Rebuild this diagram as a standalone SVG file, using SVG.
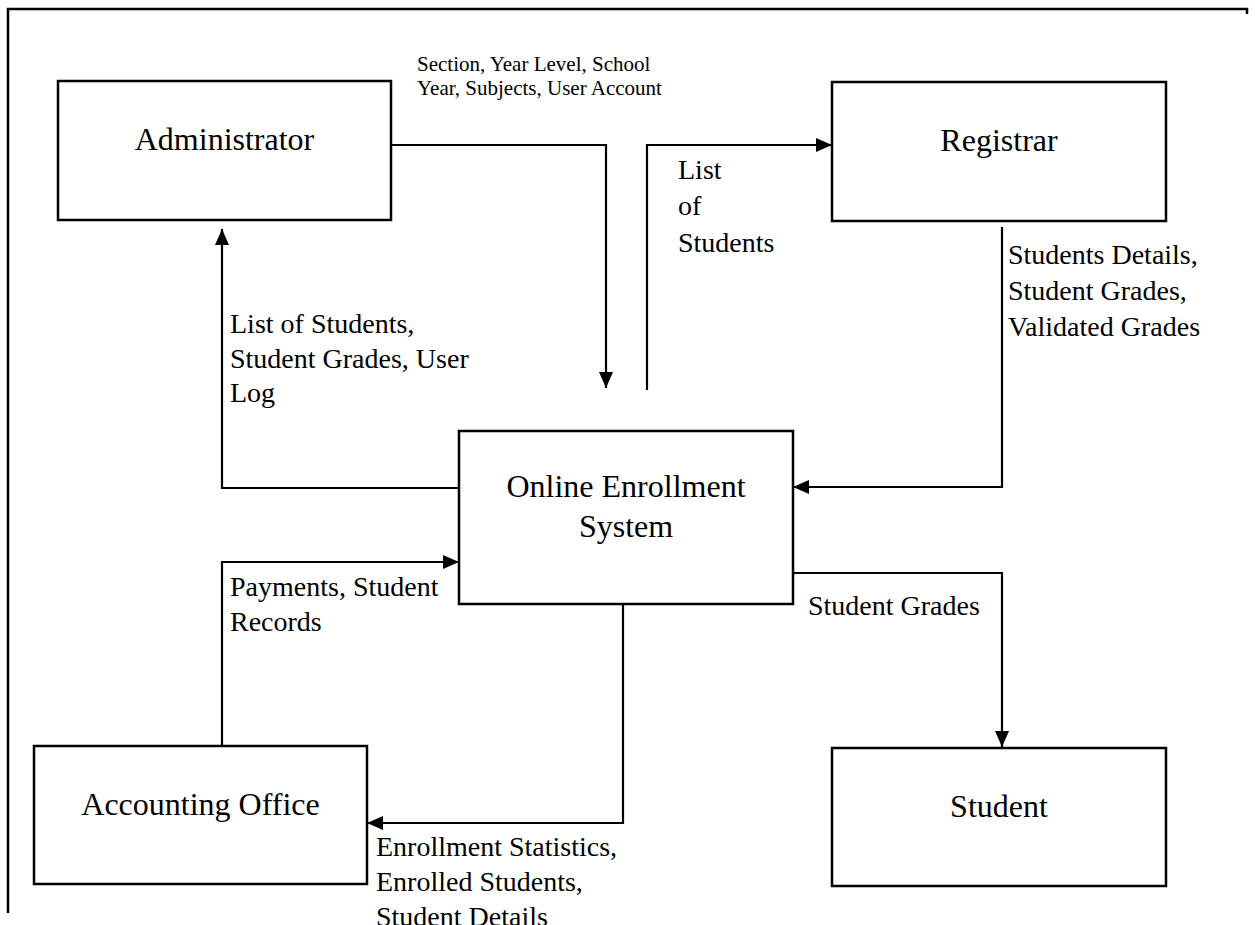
<svg xmlns="http://www.w3.org/2000/svg" width="1255" height="925" viewBox="0 0 1255 925">
<style>
.box{fill:#fff;stroke:#000;stroke-width:2.5}
.node{font-family:"Liberation Serif","Times New Roman",serif;font-size:32px;fill:#000;text-anchor:middle}
.lbl{font-family:"Liberation Serif","Times New Roman",serif;font-size:28px;fill:#000}
.sm{font-family:"Liberation Serif","Times New Roman",serif;font-size:21px;fill:#000}
.edge{fill:none;stroke:#000;stroke-width:2.2}
.frame{fill:none;stroke:#000;stroke-width:2.5}
</style>
<defs>
<marker id="arr" markerUnits="userSpaceOnUse" markerWidth="18" markerHeight="14" refX="16" refY="7" orient="auto">
<path d="M0,0 L16,7 L0,14 Z" fill="#000"/>
</marker>
</defs>
<rect width="1255" height="925" fill="#fff"/>
<path class="frame" d="M8,913 V9 H1247 V14"/>
<g id="administrator">
<rect class="box" x="58" y="81" width="333" height="139"/>
<text class="node" x="224.5" y="150">Administrator</text>
</g>
<g id="registrar">
<rect class="box" x="832" y="82" width="334" height="139"/>
<text class="node" x="999" y="151">Registrar</text>
</g>
<g id="system">
<rect class="box" x="459" y="431" width="334" height="173"/>
<text class="node" x="626" y="497">Online Enrollment</text>
<text class="node" x="626" y="537">System</text>
</g>
<g id="accounting">
<rect class="box" x="34" y="746" width="333" height="138"/>
<text class="node" x="200.5" y="815">Accounting Office</text>
</g>
<g id="student">
<rect class="box" x="832" y="748" width="334" height="138"/>
<text class="node" x="999" y="817">Student</text>
</g>
<g id="connectors">
<path class="edge" d="M391,145 H606 V388" marker-end="url(#arr)"/>
<path class="edge" d="M647,390 V145 H832" marker-end="url(#arr)"/>
<path class="edge" d="M1002,227 V487 H793" marker-end="url(#arr)"/>
<path class="edge" d="M459,488 H222 V229" marker-end="url(#arr)"/>
<path class="edge" d="M222,746 V562 H459" marker-end="url(#arr)"/>
<path class="edge" d="M793,573 H1002 V747" marker-end="url(#arr)"/>
<path class="edge" d="M623,604 V823 H367" marker-end="url(#arr)"/>
</g>
<g id="labels">
<text class="sm" x="417" y="71">Section, Year Level, School</text>
<text class="sm" x="417" y="95">Year, Subjects, User Account</text>
<text class="lbl" x="678" y="179">List</text>
<text class="lbl" x="678" y="215">of</text>
<text class="lbl" x="678" y="252">Students</text>
<text class="lbl" x="1008" y="264">Students Details,</text>
<text class="lbl" x="1008" y="300">Student Grades,</text>
<text class="lbl" x="1008" y="336">Validated Grades</text>
<text class="lbl" x="230" y="333">List of Students,</text>
<text class="lbl" x="230" y="368">Student Grades, User</text>
<text class="lbl" x="230" y="402">Log</text>
<text class="lbl" x="230" y="596">Payments, Student</text>
<text class="lbl" x="230" y="631">Records</text>
<text class="lbl" x="808" y="615">Student Grades</text>
<text class="lbl" x="376" y="856">Enrollment Statistics,</text>
<text class="lbl" x="376" y="891">Enrolled Students,</text>
<text class="lbl" x="376" y="926">Student Details</text>
</g>
</svg>
